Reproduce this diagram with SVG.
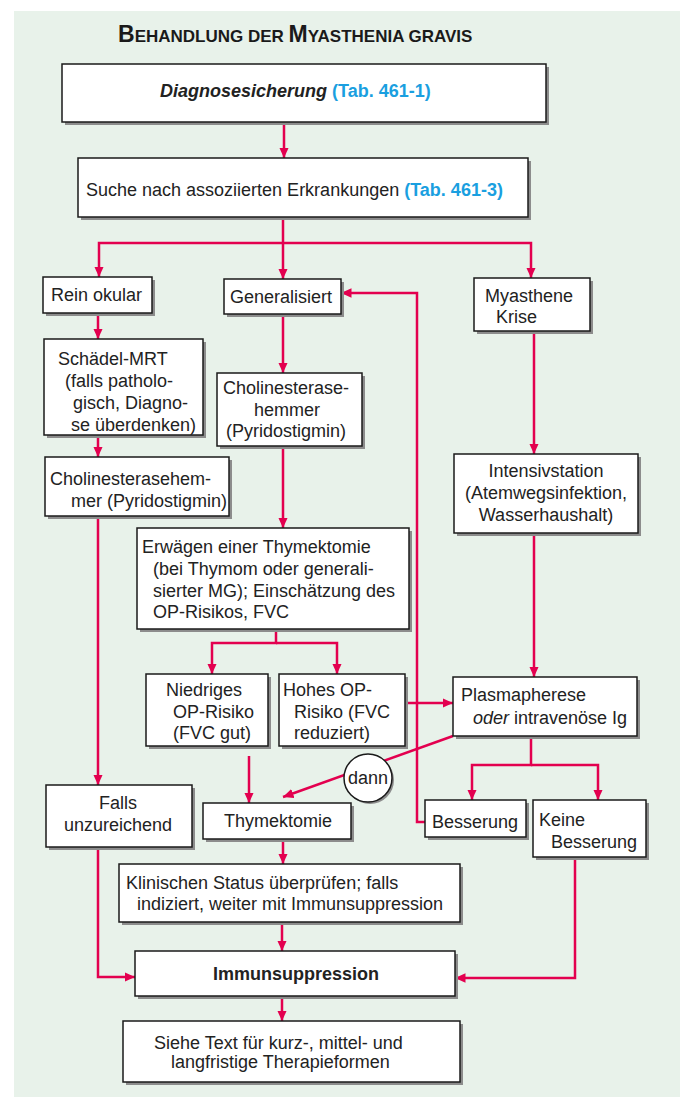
<svg xmlns="http://www.w3.org/2000/svg" width="680" height="1097" viewBox="0 0 680 1097">
<style>
.bg{fill:#e8f2ea}
.sh{fill:#8c8c8c}
.bx{fill:#fff;stroke:#1a1a1a;stroke-width:1.5}
.t{font-family:"Liberation Sans",Arial,sans-serif;font-size:18px;fill:#222}
.b{font-weight:bold}
.i{font-style:italic}
.c{fill:#1a9fe0;font-weight:bold}
.mid{text-anchor:middle}
.ln{fill:none;stroke:#e3004f;stroke-width:2.5}
.ttl{font-family:"Liberation Sans",Arial,sans-serif;font-weight:bold;fill:#1a1a1a}
</style>
<defs>
<marker id="ah" markerUnits="userSpaceOnUse" markerWidth="11" markerHeight="10" refX="10.5" refY="4.75" orient="auto">
<path d="M0,0 L10.5,4.75 L0,9.5 z" fill="#e3004f"/>
</marker>
</defs>
<rect class="bg" x="14" y="11" width="666" height="1086"/>
<text class="ttl" x="118" y="42"><tspan font-size="23">B</tspan><tspan font-size="17">EHANDLUNG DER </tspan><tspan font-size="23">M</tspan><tspan font-size="17">YASTHENIA GRAVIS</tspan></text>

<g id="connectors">
<path class="ln" d="M284,122 V158" marker-end="url(#ah)"/>
<path class="ln" d="M283,217 V279" marker-end="url(#ah)"/>
<path class="ln" d="M283,243 H99 V277" marker-end="url(#ah)"/>
<path class="ln" d="M283,243 H531 V278" marker-end="url(#ah)"/>
<path class="ln" d="M98,313 V339" marker-end="url(#ah)"/>
<path class="ln" d="M98,435 V457" marker-end="url(#ah)"/>
<path class="ln" d="M98,516 V785" marker-end="url(#ah)"/>
<path class="ln" d="M98,847 V977 H135" marker-end="url(#ah)"/>
<path class="ln" d="M283,314 V373" marker-end="url(#ah)"/>
<path class="ln" d="M283,446 V528" marker-end="url(#ah)"/>
<path class="ln" d="M276,629 V643 H212 V674" marker-end="url(#ah)"/>
<path class="ln" d="M276,643 H337 V674" marker-end="url(#ah)"/>
<path class="ln" d="M249,756 V803" marker-end="url(#ah)"/>
<path class="ln" d="M405,703 H453" marker-end="url(#ah)"/>
<path class="ln" d="M534,331 V454" marker-end="url(#ah)"/>
<path class="ln" d="M534,533 V677" marker-end="url(#ah)"/>
<path class="ln" d="M531,736 V765 H472 V800" marker-end="url(#ah)"/>
<path class="ln" d="M531,765 H598 V800" marker-end="url(#ah)"/>
<path class="ln" d="M425,822 H417 V293 H341" marker-end="url(#ah)"/>
<path class="ln" d="M453,736 L283,797" marker-end="url(#ah)"/>
<path class="ln" d="M575,857 V978 H455" marker-end="url(#ah)"/>
<path class="ln" d="M283,839 V864" marker-end="url(#ah)"/>
<path class="ln" d="M282,922 V951" marker-end="url(#ah)"/>
<path class="ln" d="M282,996 V1021" marker-end="url(#ah)"/>
</g>

<g id="n-diag">
<rect class="sh" x="65" y="67" width="484" height="58"/>
<rect class="bx" x="62" y="64" width="484" height="58"/>
<text class="t" x="160" y="97"><tspan class="b i">Diagnosesicherung</tspan> <tspan class="c">(Tab. 461-1)</tspan></text>
</g>
<g id="n-suche">
<rect class="sh" x="81" y="161" width="450" height="59"/>
<rect class="bx" x="78" y="158" width="450" height="59"/>
<text class="t" x="86" y="196">Suche nach assoziierten Erkrankungen <tspan class="c">(Tab. 461-3)</tspan></text>
</g>
<g id="n-okular">
<rect class="sh" x="46" y="280" width="109" height="36"/>
<rect class="bx" x="43" y="277" width="109" height="36"/>
<text class="t" x="51" y="301">Rein okular</text>
</g>
<g id="n-general">
<rect class="sh" x="227" y="282" width="117" height="35"/>
<rect class="bx" x="224" y="279" width="117" height="35"/>
<text class="t" x="230" y="303">Generalisiert</text>
</g>
<g id="n-krise">
<rect class="sh" x="477" y="281" width="116" height="53"/>
<rect class="bx" x="474" y="278" width="116" height="53"/>
<text class="t"><tspan x="485" y="302">Myasthene</tspan><tspan x="496" y="323">Krise</tspan></text>
</g>
<g id="n-mrt">
<rect class="sh" x="47" y="342" width="159" height="96"/>
<rect class="bx" x="44" y="339" width="159" height="96"/>
<text class="t"><tspan x="58" y="365">Schädel-MRT</tspan><tspan x="65" y="387">(falls patholo-</tspan><tspan x="73" y="409">gisch, Diagno-</tspan><tspan x="71" y="431">se überdenken)</tspan></text>
</g>
<g id="n-chol-l">
<rect class="sh" x="48" y="460" width="184" height="59"/>
<rect class="bx" x="45" y="457" width="184" height="59"/>
<text class="t"><tspan x="50" y="485">Cholinesterasehem-</tspan><tspan x="71" y="507">mer (Pyridostigmin)</tspan></text>
</g>
<g id="n-chol-m">
<rect class="sh" x="220" y="376" width="145" height="73"/>
<rect class="bx" x="217" y="373" width="145" height="73"/>
<text class="t"><tspan x="223" y="394">Cholinesterase-</tspan><tspan x="254" y="416">hemmer</tspan><tspan x="226" y="437">(Pyridostigmin)</tspan></text>
</g>
<g id="n-erwaegen">
<rect class="sh" x="140" y="531" width="272" height="101"/>
<rect class="bx" x="137" y="528" width="272" height="101"/>
<text class="t"><tspan x="142" y="553">Erwägen einer Thymektomie</tspan><tspan x="153" y="575">(bei Thymom oder generali-</tspan><tspan x="153" y="597">sierter MG); Einschätzung des</tspan><tspan x="153" y="618">OP-Risikos, FVC</tspan></text>
</g>
<g id="n-niedrig">
<rect class="sh" x="149" y="677" width="122" height="72"/>
<rect class="bx" x="146" y="674" width="122" height="72"/>
<text class="t"><tspan x="166" y="696">Niedriges</tspan><tspan x="173" y="718">OP-Risiko</tspan><tspan x="173" y="739">(FVC gut)</tspan></text>
</g>
<g id="n-hohes">
<rect class="sh" x="282" y="677" width="126" height="72"/>
<rect class="bx" x="279" y="674" width="126" height="72"/>
<text class="t"><tspan x="283" y="696">Hohes OP-</tspan><tspan x="294" y="718">Risiko (FVC</tspan><tspan x="294" y="739">reduziert)</tspan></text>
</g>
<g id="n-intensiv">
<rect class="sh" x="457" y="457" width="184" height="79"/>
<rect class="bx" x="454" y="454" width="184" height="79"/>
<text class="t mid"><tspan x="546" y="477">Intensivstation</tspan><tspan x="546" y="499">(Atemwegsinfektion,</tspan><tspan x="546" y="521">Wasserhaushalt)</tspan></text>
</g>
<g id="n-plasma">
<rect class="sh" x="456" y="680" width="184" height="59"/>
<rect class="bx" x="453" y="677" width="184" height="59"/>
<text class="t"><tspan x="461" y="701">Plasmapherese</tspan><tspan x="473" y="724"><tspan class="i">oder</tspan> intravenöse Ig</tspan></text>
</g>
<g id="n-besserung">
<rect class="sh" x="428" y="803" width="101" height="37"/>
<rect class="bx" x="425" y="800" width="101" height="37"/>
<text class="t" x="432" y="828">Besserung</text>
</g>
<g id="n-keine">
<rect class="sh" x="536" y="803" width="113" height="57"/>
<rect class="bx" x="533" y="800" width="113" height="57"/>
<text class="t"><tspan x="539" y="826">Keine</tspan><tspan x="551" y="848">Besserung</tspan></text>
</g>
<g id="n-falls">
<rect class="sh" x="49" y="788" width="146" height="62"/>
<rect class="bx" x="46" y="785" width="146" height="62"/>
<text class="t mid"><tspan x="118" y="809">Falls</tspan><tspan x="118" y="831">unzureichend</tspan></text>
</g>
<g id="n-thymek">
<rect class="sh" x="206" y="806" width="148" height="36"/>
<rect class="bx" x="203" y="803" width="148" height="36"/>
<text class="t mid" x="278" y="827">Thymektomie</text>
</g>
<g id="n-dann">
<circle cx="370" cy="780" r="24" fill="#8c8c8c"/>
<circle cx="368" cy="778" r="24" fill="#fff" stroke="#1a1a1a" stroke-width="1.5"/>
<text class="t mid" x="368" y="784" font-size="17">dann</text>
</g>
<g id="n-klin">
<rect class="sh" x="122" y="867" width="341" height="58"/>
<rect class="bx" x="119" y="864" width="341" height="58"/>
<text class="t"><tspan x="126" y="889">Klinischen Status überprüfen; falls</tspan><tspan x="137" y="910">indiziert, weiter mit Immunsuppression</tspan></text>
</g>
<g id="n-immun">
<rect class="sh" x="138" y="954" width="320" height="45"/>
<rect class="bx" x="135" y="951" width="320" height="45"/>
<text class="t b mid" x="296" y="980">Immunsuppression</text>
</g>
<g id="n-siehe">
<rect class="sh" x="126" y="1024" width="337" height="61"/>
<rect class="bx" x="123" y="1021" width="337" height="61"/>
<text class="t"><tspan x="154" y="1049">Siehe Text für kurz-, mittel- und</tspan><tspan x="171" y="1068">langfristige Therapieformen</tspan></text>
</g>
</svg>
